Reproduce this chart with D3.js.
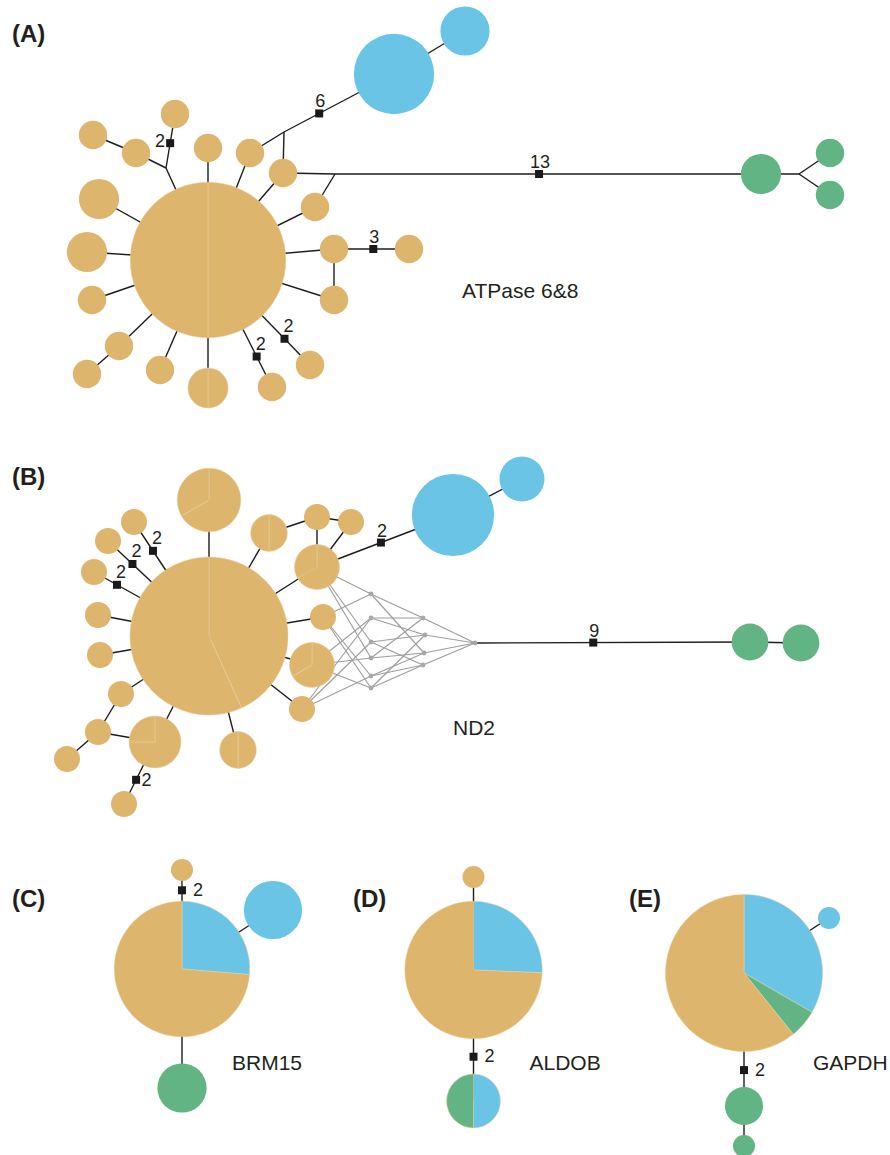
<!DOCTYPE html>
<html>
<head>
<meta charset="utf-8">
<script src="https://cdn.jsdelivr.net/npm/d3@7"></script>
<style>
  body { margin: 0; background: #fff; }
  svg { display: block; }
  text { font-family: "Liberation Sans", Arial, Helvetica, sans-serif; fill: #231f20; }
</style>
</head>
<body>
<svg id="chart" width="890" height="1155"></svg>
<script>
// ---------------------------------------------------------------
// Haplotype networks for five loci.
// Node positions are network-layout units relative to each panel's
// main haplotype; counts are sample counts per population, listed
// as sub-groups so that each pie slice is one group.
// ---------------------------------------------------------------

const populations = ["pop1", "pop2", "pop3"];

// ---- ATPase 6&8 ----
const atpHaplotypes = [
  { id: "h0",  x: 0,    y: 0,    counts: [["pop1", 15], ["pop1", 15]] },
  { id: "h1",  x: -115, y: -125, counts: [["pop1", 1]] },
  { id: "h2",  x: -72,  y: -107, counts: [["pop1", 1]] },
  { id: "h3",  x: -33,  y: -146, counts: [["pop1", 1]] },
  { id: "h4",  x: 0,    y: -112, counts: [["pop1", 1]] },
  { id: "h5",  x: 42,   y: -107, counts: [["pop1", 1]] },
  { id: "h6",  x: 75,   y: -87,  counts: [["pop1", 1]] },
  { id: "h7",  x: 107,  y: -53,  counts: [["pop1", 1]] },
  { id: "h8",  x: 126,  y: -11,  counts: [["pop1", 1]] },
  { id: "h9",  x: 201,  y: -11,  counts: [["pop1", 1]] },
  { id: "h10", x: 126,  y: 40,   counts: [["pop1", 1]] },
  { id: "h11", x: 102,  y: 105,  counts: [["pop1", 1]] },
  { id: "h12", x: 64,   y: 127,  counts: [["pop1", 1]] },
  { id: "h13", x: 0,    y: 128,  counts: [["pop1", 1], ["pop1", 1]] },
  { id: "h14", x: -48,  y: 110,  counts: [["pop1", 1]] },
  { id: "h15", x: -89,  y: 86,   counts: [["pop1", 1]] },
  { id: "h16", x: -121, y: 114,  counts: [["pop1", 1]] },
  { id: "h17", x: -116, y: 40,   counts: [["pop1", 1]] },
  { id: "h18", x: -121, y: -8,   counts: [["pop1", 2]] },
  { id: "h19", x: -109, y: -61,  counts: [["pop1", 2]] },
  { id: "h20", x: 186,  y: -186, counts: [["pop2", 8]] },
  { id: "h21", x: 257,  y: -229, counts: [["pop2", 3]] },
  { id: "h22", x: 553,  y: -86,  counts: [["pop3", 2]] },
  { id: "h23", x: 622,  y: -107, counts: [["pop3", 1]] },
  { id: "h24", x: 622,  y: -65,  counts: [["pop3", 1]] }
];
const atpMedianVectors = [
  { id: "mv1", x: -42, y: -92 },
  { id: "mv2", x: 76,  y: -128 },
  { id: "mv3", x: 127, y: -86 },
  { id: "mv4", x: 591, y: -86 }
];
// [source, target, mutation steps, marker position along link, label side]
const atpLinks = [
  ["h0", "mv1"], ["mv1", "h2"], ["h1", "h2"], ["mv1", "h3", 2, 0.46, "w"],
  ["h0", "h4"], ["h0", "h5"], ["h0", "h6"],
  ["h5", "mv2"], ["h6", "mv2"], ["mv2", "h20", 6, 0.32, "n"], ["h20", "h21"],
  ["h6", "mv3"], ["h7", "mv3"], ["mv3", "h22", 13, 0.479, "n"],
  ["h22", "mv4"], ["mv4", "h23"], ["mv4", "h24"],
  ["h0", "h7"], ["h0", "h8"], ["h8", "h9", 3, 0.524, "n"], ["h8", "h10"], ["h0", "h10"],
  ["h0", "h11", 2, 0.75, "ne"], ["h0", "h12", 2, 0.76, "ne"],
  ["h0", "h13"], ["h0", "h14"], ["h0", "h15"], ["h15", "h16"],
  ["h0", "h17"], ["h0", "h18"], ["h0", "h19"]
];

// ---- ND2 ----
const nd2Haplotypes = [
  { id: "n0",  x: 0,    y: 0,    counts: [["pop1", 16], ["pop1", 21]] },
  { id: "n1",  x: 0,    y: -136, counts: [["pop1", 4], ["pop1", 2]] },
  { id: "n2",  x: -75,  y: -114, counts: [["pop1", 1]] },
  { id: "n3",  x: -101, y: -95,  counts: [["pop1", 1]] },
  { id: "n4",  x: -115, y: -64,  counts: [["pop1", 1]] },
  { id: "n5",  x: -111, y: -21,  counts: [["pop1", 1]] },
  { id: "n6",  x: -109, y: 19,   counts: [["pop1", 1]] },
  { id: "n7",  x: -88,  y: 58,   counts: [["pop1", 1]] },
  { id: "n8",  x: -111, y: 96,   counts: [["pop1", 1]] },
  { id: "n9",  x: -142, y: 123,  counts: [["pop1", 1]] },
  { id: "n10", x: -54,  y: 106,  counts: [["pop1", 3], ["pop1", 1]] },
  { id: "n11", x: -85,  y: 168,  counts: [["pop1", 1]] },
  { id: "n12", x: 29,   y: 114,  counts: [["pop1", 1], ["pop1", 1]] },
  { id: "n13", x: 93,   y: 73,   counts: [["pop1", 1]] },
  { id: "n14", x: 103,  y: 29,   counts: [["pop1", 2], ["pop1", 1]] },
  { id: "n15", x: 114,  y: -19,  counts: [["pop1", 1]] },
  { id: "n16", x: 108,  y: -69,  counts: [["pop1", 2], ["pop1", 1]] },
  { id: "n17", x: 60,   y: -103, counts: [["pop1", 1], ["pop1", 1]] },
  { id: "n18", x: 108,  y: -119, counts: [["pop1", 1]] },
  { id: "n19", x: 142,  y: -114, counts: [["pop1", 1]] },
  { id: "n20", x: 244,  y: -121, counts: [["pop2", 10]] },
  { id: "n21", x: 313,  y: -157, counts: [["pop2", 3]] },
  { id: "n22", x: 541,  y: 6,    counts: [["pop3", 2]] },
  { id: "n23", x: 592,  y: 7,    counts: [["pop3", 2]] }
];
const nd2MedianVectors = [
  { id: "a", x: 162, y: -42, shown: true },
  { id: "b", x: 162, y: -18, shown: true },
  { id: "c", x: 162, y: 6,   shown: true },
  { id: "d", x: 162, y: 22,  shown: true },
  { id: "e", x: 162, y: 40,  shown: true },
  { id: "f", x: 162, y: 52,  shown: true },
  { id: "g", x: 214, y: -18, shown: true },
  { id: "h", x: 216, y: -1,  shown: true },
  { id: "i", x: 215, y: 17,  shown: true },
  { id: "j", x: 214, y: 29,  shown: true },
  { id: "k", x: 266, y: 7,   shown: true }
];
const nd2Links = [
  ["n0", "n1"], ["n0", "n2", 2, 0.747, "ne"], ["n0", "n3", 2, 0.758, "ne"], ["n0", "n4", 2, 0.8, "ne"],
  ["n0", "n5"], ["n0", "n6"], ["n0", "n7"], ["n7", "n8"], ["n8", "n9"], ["n8", "n10"], ["n0", "n10"],
  ["n10", "n11", 2, 0.61, "e"], ["n0", "n12"], ["n0", "n13"], ["n0", "n14"], ["n0", "n15"], ["n0", "n16"],
  ["n0", "n17"], ["n17", "n18"], ["n18", "n19"], ["n16", "n18"], ["n16", "n19"],
  ["n16", "n20", 2, 0.47, "n"], ["n20", "n21"], ["k", "n22", 9, 0.43, "n"], ["n22", "n23"]
];
// alternative (reticulate) connections through unsampled median vectors
const nd2Reticulations = [
  ["n16", "a"], ["n16", "c"], ["n16", "d"],
  ["n15", "a"], ["n15", "e"], ["n15", "f"],
  ["n14", "b"], ["n14", "d"], ["n14", "f"],
  ["n13", "b"], ["n13", "c"], ["n13", "e"],
  ["a", "g"], ["a", "i"], ["b", "g"], ["b", "h"], ["c", "h"], ["c", "j"],
  ["d", "g"], ["d", "i"], ["e", "i"], ["e", "j"], ["f", "h"], ["f", "j"],
  ["g", "k"], ["h", "k"], ["i", "k"], ["j", "k"]
];

// ---- BRM15 ----
const brmHaplotypes = [
  { id: "b0", x: 0,  y: 0,   counts: [["pop2", 10], ["pop1", 28]] },
  { id: "b1", x: 0,  y: -99, counts: [["pop1", 1]] },
  { id: "b2", x: 91, y: -59, counts: [["pop2", 7]] },
  { id: "b3", x: 0,  y: 119, counts: [["pop3", 5]] }
];
const brmLinks = [["b0", "b1", 2, 0.795, "e2"], ["b0", "b2"], ["b0", "b3"]];

// ---- ALDOB ----
const aldobHaplotypes = [
  { id: "a0", x: 0, y: 0,   counts: [["pop2", 10], ["pop1", 29]] },
  { id: "a1", x: 0, y: -93, counts: [["pop1", 1]] },
  { id: "a2", x: 0, y: 131, counts: [["pop2", 3], ["pop3", 3]] }
];
const aldobLinks = [["a0", "a1"], ["a0", "a2", 2, 0.662, "e2"]];

// ---- GAPDH ----
const gapdhHaplotypes = [
  { id: "g0", x: 0,  y: 0,   counts: [["pop2", 17], ["pop3", 3], ["pop1", 31]] },
  { id: "g1", x: 85, y: -55, counts: [["pop2", 1]] },
  { id: "g2", x: 0,  y: 133, counts: [["pop3", 3]] },
  { id: "g3", x: 0,  y: 173, counts: [["pop3", 1]] }
];
const gapdhLinks = [["g0", "g1"], ["g0", "g2", 2, 0.73, "e2"], ["g2", "g3"]];

const panelTags = ["(A)", "(B)", "(C)", "(D)", "(E)"];
const geneNames = ["ATPase 6&8", "ND2", "BRM15", "ALDOB", "GAPDH"];

// ---------------------------------------------------------------
// Drawing
// ---------------------------------------------------------------
const svg = d3.select("#chart");
const color = d3.scaleOrdinal().domain(populations).range(["#DDB56D", "#6AC4E6", "#62B485"]);
const pie = d3.pie().sort(null).value(d => d[1]);
const arc = d3.arc().innerRadius(0);

const labelSide = {
  n:  { dx: 1,    dy: -6,   anchor: "middle" },
  ne: { dx: -1,   dy: -6.5, anchor: "start" },
  w:  { dx: -5,   dy: 3.5,  anchor: "end" },
  e:  { dx: 5.5,  dy: 6,    anchor: "start" },
  e2: { dx: 11,   dy: 5.5,  anchor: "start" }
};

const panels = [
  { tag: [12, 42],  origin: [208, 260],   unit: 14.2, nodes: atpHaplotypes,   medians: atpMedianVectors, links: atpLinks,   ret: [], gene: [254, 38] },
  { tag: [12, 485], origin: [209, 636],   unit: 13,   nodes: nd2Haplotypes,   medians: nd2MedianVectors, links: nd2Links,   ret: nd2Reticulations, gene: [244, 99] },
  { tag: [12, 907], origin: [182, 969],   unit: 11,   nodes: brmHaplotypes,   medians: [], links: brmLinks,   ret: [], gene: [50, 101] },
  { tag: [353, 907], origin: [473.5, 970], unit: 11,  nodes: aldobHaplotypes, medians: [], links: aldobLinks, ret: [], gene: [56, 100] },
  { tag: [629, 907], origin: [744, 973],  unit: 11,   nodes: gapdhHaplotypes, medians: [], links: gapdhLinks, ret: [], gene: [69, 97] }
];

panels.forEach((p, idx) => {
  const x = d3.scaleLinear().domain([0, 100]).range([p.origin[0], p.origin[0] + 100]);
  const y = d3.scaleLinear().domain([0, 100]).range([p.origin[1], p.origin[1] + 100]);
  const r = d3.scaleSqrt().domain([0, 1]).range([0, p.unit]);

  const byId = new Map();
  p.nodes.forEach(n => byId.set(n.id, n));
  p.medians.forEach(n => byId.set(n.id, n));

  const g = svg.append("g");

  // reticulations (grey)
  g.append("g")
    .selectAll("line").data(p.ret).join("line")
    .attr("x1", d => x(byId.get(d[0]).x)).attr("y1", d => y(byId.get(d[0]).y))
    .attr("x2", d => x(byId.get(d[1]).x)).attr("y2", d => y(byId.get(d[1]).y))
    .attr("stroke", "#9e9e9e").attr("stroke-width", 1.15);

  // network links
  g.append("g")
    .selectAll("line").data(p.links).join("line")
    .attr("x1", d => x(byId.get(d[0]).x)).attr("y1", d => y(byId.get(d[0]).y))
    .attr("x2", d => x(byId.get(d[1]).x)).attr("y2", d => y(byId.get(d[1]).y))
    .attr("stroke", "#1c1c1c").attr("stroke-width", 1.4);

  // visible median vectors
  g.append("g")
    .selectAll("circle").data(p.medians.filter(m => m.shown)).join("circle")
    .attr("cx", d => x(d.x)).attr("cy", d => y(d.y)).attr("r", 2.4)
    .attr("fill", "#a8a8a8");

  // haplotype pies
  const node = g.append("g")
    .selectAll("g").data(p.nodes).join("g")
    .attr("transform", d => `translate(${x(d.x)},${y(d.y)})`);
  node.each(function (d) {
    const total = d3.sum(d.counts, c => c[1]);
    const rad = r(total);
    d3.select(this).selectAll("path")
      .data(pie(d.counts.filter(c => c[1] > 0)))
      .join("path")
      .attr("d", s => arc.outerRadius(rad)(s))
      .attr("fill", s => color(s.data[0]))
      .attr("stroke", "#e9d1a0")
      .attr("stroke-width", d.counts.length > 1 ? 0.5 : 0);
  });

  // mutation-step markers
  const stepped = p.links.filter(l => l[2] > 1).map(l => {
    const s = byId.get(l[0]), t = byId.get(l[1]);
    return { steps: l[2], side: labelSide[l[4]],
             mx: x(s.x + (t.x - s.x) * l[3]), my: y(s.y + (t.y - s.y) * l[3]) };
  });
  g.append("g")
    .selectAll("rect").data(stepped).join("rect")
    .attr("x", d => d.mx - 4).attr("y", d => d.my - 4)
    .attr("width", 8).attr("height", 8)
    .attr("fill", "#1a1a1a");
  g.append("g")
    .selectAll("text").data(stepped).join("text")
    .attr("x", d => d.mx + d.side.dx).attr("y", d => d.my + d.side.dy)
    .attr("text-anchor", d => d.side.anchor)
    .attr("font-size", 18)
    .text(d => d.steps);

  // gene name
  g.append("text")
    .attr("x", x(p.gene[0])).attr("y", y(p.gene[1]))
    .attr("font-size", 21)
    .text(geneNames[idx]);

  // panel tag
  svg.append("text")
    .attr("x", p.tag[0]).attr("y", p.tag[1])
    .attr("font-size", 24).attr("font-weight", "bold")
    .text(panelTags[idx]);
});
</script>
</body>
</html>
